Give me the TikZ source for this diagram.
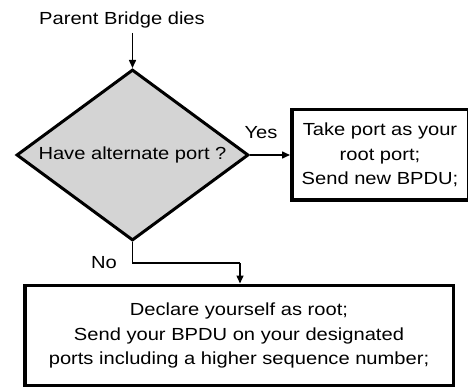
\documentclass[tikz,border=0pt]{standalone}
\usepackage{fontspec}
\setmainfont{Liberation Sans}[FakeStretch=1.15]
\usetikzlibrary{shapes.geometric,arrows.meta}

\definecolor{decisionfill}{RGB}{212,212,212}

\tikzset{
  txt/.style={font=\fontsize{17.5}{24.5}\selectfont, inner sep=0pt},
  decision/.style={diamond, draw, line width=3pt, fill=decisionfill,
    inner sep=0pt, aspect=1.357, minimum width=232pt, minimum height=171pt,
    font=\fontsize{17.5}{24.5}\selectfont},
  actionbox/.style={rectangle, draw, line width=3.5pt, fill=white,
    inner sep=0pt, align=center, font=\fontsize{17.5}{24.5}\selectfont},
  flow/.style={line width=1.5pt, -{Triangle[length=8pt,width=7pt]}},
  plain/.style={line width=1.5pt}
}

\begin{document}
\begin{tikzpicture}[x=1pt,y=-1pt]
  \clip (0,0) rectangle (468,387);
  \fill[white] (0,0) rectangle (468,387);

  % start label
  \node[txt, anchor=base, inner ysep=4pt] (start) at (122,25) {Parent Bridge dies};

  % decision
  \node[decision] (q) at (132.5,155) {Have alternate port ?};

  % outcomes
  \node[actionbox, minimum width=176.5pt, minimum height=90.5pt] (take) at (380,155)
    {Take port as your\\root port;\\Send new BPDU;};
  \node[actionbox, minimum width=428.5pt, minimum height=100.5pt] (root) at (239,335.5)
    {Declare yourself as root;\\Send your BPDU on your designated\\ports including a higher sequence number;};

  % connectors
  \draw[flow] (start.south -| q.north) -- (q.north);
  \draw[flow] (q.east) -- (take.west);
  \coordinate (elbow) at (240,263);
  \draw[plain] (q.south) |- (elbow);
  \draw[flow] (elbow) -- (elbow |- root.north);

  % branch labels
  \node[txt, anchor=base] (yes) at (261,138.3) {Yes};
  \node[txt, anchor=base] (no) at (104,268.3) {No};
\end{tikzpicture}
\end{document}
